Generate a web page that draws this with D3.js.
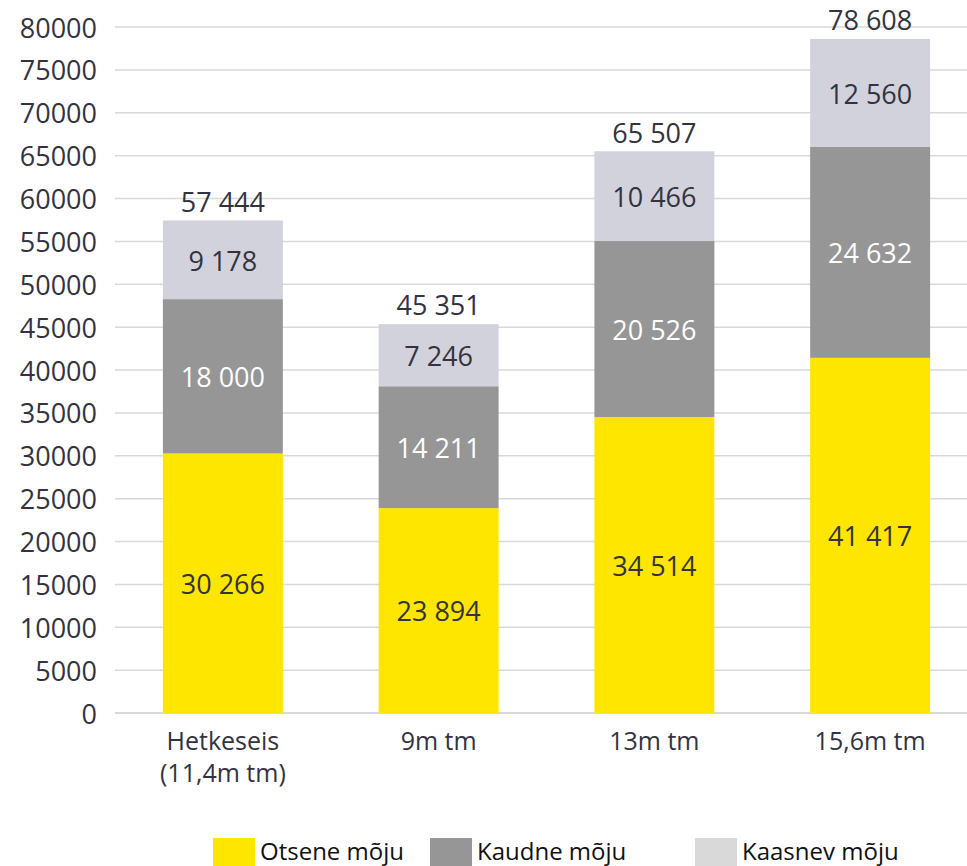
<!DOCTYPE html>
<html><head><meta charset="utf-8">
<script src="https://cdn.jsdelivr.net/npm/d3@7"></script>
<style>body{margin:0;background:#fff}svg{display:block}</style>
</head><body>
<script>
const categories = [["Hetkeseis","(11,4m tm)"],["9m tm"],["13m tm"],["15,6m tm"]];
const otsene = [30266, 23894, 34514, 41417];
const kaudne = [18000, 14211, 20526, 24632];
const kaasnev = [9178, 7246, 10466, 12560];
const totals = [57444, 45351, 65507, 78608];
const seriesNames = ["Otsene mõju","Kaudne mõju","Kaasnev mõju"];
const yTicks = d3.range(0, 80001, 5000);

const W = 967, H = 866;
const font = "'Open Sans', sans-serif";
const textColor = "#333340";
const colors = ["#FFE600", "#969696", "#D2D2DC"];
const legendColors = ["#FFE600", "#969696", "#D9D9D9"];
const labelColors = [textColor, "#ffffff", textColor];

const svg = d3.select("body").append("svg").attr("width", W).attr("height", H);

const x = d3.scaleBand().domain(d3.range(categories.length)).range([115, 978]).paddingInner(0.444).paddingOuter(0.222);
const y = d3.scaleLinear().domain([0, 80000]).range([713, 27]);

// gridlines
svg.append("g").selectAll("line").data(yTicks).join("line")
  .attr("x1", 115).attr("x2", W)
  .attr("y1", d => y(d)).attr("y2", d => y(d))
  .attr("stroke", "#D9D9D9").attr("stroke-width", d => d === 0 ? 2 : 1.5);

// y axis labels
const yAxis = d3.axisLeft(y).tickValues(yTicks).tickSize(0).tickPadding(0).tickFormat(d3.format("d"));
const ga = svg.append("g").attr("transform", "translate(97,0)").call(yAxis);
ga.select(".domain").remove();
ga.selectAll("text").attr("font-family", font).attr("font-size", 27).attr("fill", textColor).attr("dy", "0.37em");

// stacks
const rows = categories.map((c, i) => ({i, s0: otsene[i], s1: kaudne[i], s2: kaasnev[i]}));
const stack = d3.stack().keys(["s0","s1","s2"])(rows);
const fmt = v => d3.format(",")(v).replace(/,/g, " ");

stack.forEach((layer, k) => {
  const g = svg.append("g");
  g.selectAll("rect").data(layer).join("rect")
    .attr("x", d => x(d.data.i)).attr("width", x.bandwidth())
    .attr("y", d => y(d[1])).attr("height", d => y(d[0]) - y(d[1]))
    .attr("fill", colors[k]);
  g.selectAll("text").data(layer).join("text")
    .attr("x", d => x(d.data.i) + x.bandwidth()/2)
    .attr("y", d => (y(d[0]) + y(d[1]))/2)
    .attr("dy", "0.4em").attr("text-anchor", "middle")
    .attr("font-family", font).attr("font-size", 27).attr("fill", labelColors[k])
    .text(d => fmt(d.data["s"+k]));
});

// totals
svg.append("g").selectAll("text").data(totals).join("text")
  .attr("x", (d, i) => x(i) + x.bandwidth()/2)
  .attr("y", d => y(d) - 19)
  .attr("dy", "0.38em").attr("text-anchor", "middle")
  .attr("font-family", font).attr("font-size", 27).attr("fill", textColor)
  .text(d => fmt(d));

// category labels
const cg = svg.append("g").selectAll("text").data(categories).join("text")
  .attr("text-anchor", "middle").attr("font-family", font).attr("font-size", 25).attr("fill", textColor);
cg.each(function(lines, i) {
  d3.select(this).selectAll("tspan").data(lines).join("tspan")
    .attr("x", x(i) + x.bandwidth()/2)
    .attr("y", (l, j) => 741 + j * 32)
    .attr("dy", "0.37em")
    .text(l => l);
});

// legend
const legX = [213, 430, 695];
const lg = svg.append("g").selectAll("g").data(seriesNames).join("g")
  .attr("transform", (d, i) => `translate(${legX[i]},838)`);
lg.append("rect").attr("width", 42).attr("height", 42).attr("fill", (d, i) => legendColors[i]);
lg.append("text").attr("x", 47).attr("y", 22).attr("font-family", font).attr("font-size", 24)
  .attr("fill", "#111").text(d => d);
</script>
</body></html>
